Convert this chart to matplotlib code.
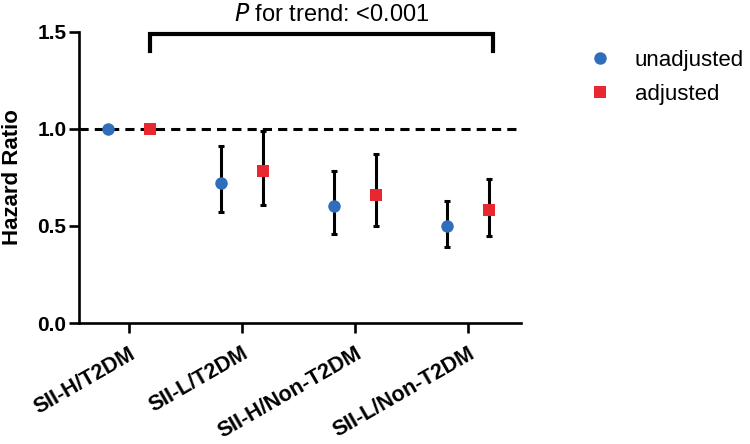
import matplotlib
matplotlib.use("Agg")
import matplotlib.pyplot as plt
import numpy as np

plt.rcParams["font.family"] = ["Liberation Sans", "DejaVu Sans"]

groups = ["SII-H/T2DM", "SII-L/T2DM", "SII-H/Non-T2DM", "SII-L/Non-T2DM"]
unadj_hr = [1.00, 0.72, 0.60, 0.50]
unadj_lo = [1.00, 0.57, 0.46, 0.39]
unadj_hi = [1.00, 0.91, 0.78, 0.63]
adj_hr = [1.00, 0.78, 0.66, 0.58]
adj_lo = [1.00, 0.61, 0.50, 0.45]
adj_hi = [1.00, 0.99, 0.87, 0.74]

blue = "#2F6EBA"
red = "#E8282E"

fig = plt.figure(figsize=(7.5, 4.44), dpi=100)
ax = fig.add_axes([0.1053, 0.2725, 0.5893, 0.6563])

x = np.arange(len(groups))
off = 0.186
ax.axhline(1.0, color="black", ls=(0, (3, 2)), lw=2.2, zorder=1)


def draw(xpos, hr, lo, hi, color, marker, ms, label):
    hr = np.array(hr)
    err = np.array([hr - np.array(lo), np.array(hi) - hr])
    ax.errorbar(xpos, hr, yerr=err, fmt="none", ecolor="black", elinewidth=2.2,
                capsize=2.0, capthick=2.2, zorder=2)
    ax.plot(xpos, hr, ls="none", marker=marker, ms=ms, color=color,
            markeredgewidth=0, zorder=3, label=label, clip_on=False)


draw(x - off, unadj_hr, unadj_lo, unadj_hi, blue, "o", 9, "unadjusted")
draw(x + off, adj_hr, adj_lo, adj_hi, red, "s", 8.5, "adjusted")

ax.set_xlim(-0.44, 3.47)
ax.set_ylim(0, 1.5)
ax.set_yticks([0, 0.5, 1.0, 1.5])
ax.set_yticklabels(["0.0", "0.5", "1.0", "1.5"])
ax.set_xticks(x)
ax.set_xticklabels(groups, rotation=30, ha="right", rotation_mode="anchor")
for lab in ax.get_yticklabels():
    lab.set_fontweight("bold")
    lab.set_fontsize(15)
for lab in ax.get_xticklabels():
    lab.set_fontweight("bold")
    lab.set_fontsize(15.5)
ax.tick_params(axis="both", width=1.9, length=7.5, pad=1.5)
ax.tick_params(axis="x", length=7, pad=7.5)
for s in ["top", "right"]:
    ax.spines[s].set_visible(False)
for s in ["left", "bottom"]:
    ax.spines[s].set_linewidth(1.9)
ax.set_ylabel("Hazard Ratio", fontsize=16, fontweight="bold", labelpad=10)

# trend bracket
bx0, bx1 = 0.19, 3.22
ax.plot([bx0, bx0, bx1, bx1], [1.40, 1.49, 1.49, 1.40], color="black", lw=3,
        clip_on=False, solid_joinstyle="miter")
ax.text(1.8, 1.557, r"$\it{P}$ for trend: <0.001", ha="center",
        va="baseline", fontsize=17)

ax.legend(loc="upper left", bbox_to_anchor=(578 / 750, 0.912),
          bbox_transform=fig.transFigure, frameon=False, borderpad=0,
          fontsize=16, handletextpad=1.05, labelspacing=0.56, handlelength=1.0)

fig.savefig("out.png", dpi=100)
